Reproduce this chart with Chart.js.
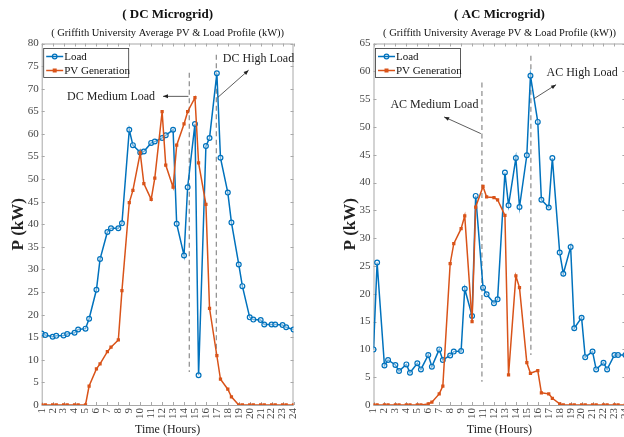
<!DOCTYPE html>
<html>
<head>
<meta charset="utf-8">
<title>DC / AC Microgrid</title>
<script src="https://cdn.jsdelivr.net/npm/chart.js@4.4.1/dist/chart.umd.min.js"></script>
<style>
    body { margin: 0; background: #fff; overflow: hidden; width: 624px; height: 437px; position: relative; }
    canvas { position: absolute; top: 0; }
</style>
</head>
<body>
<canvas id="dc-chart" width="312" height="437" style="left:0"></canvas>
<canvas id="ac-chart" width="332" height="437" style="left:312px"></canvas>
<script>
/* Data (two samples per hour: h and h + 1/3) */

const HOURS = [1, 1.33, 2, 2.33, 3, 3.33, 4, 4.33, 5, 5.33, 6, 6.33, 7, 7.33, 8, 8.33, 9, 9.33, 10, 10.33,
    11, 11.33, 12, 12.33, 13, 13.33, 14, 14.33, 15, 15.33, 16, 16.33, 17, 17.33, 18, 18.33, 19, 19.33, 20, 20.33,
    21, 21.33, 22, 22.33, 23, 23.33, 24];

const X_TICKS = [1, 2, 3, 4, 5, 6, 7, 8, 9, 10, 11, 12, 13, 14, 15, 16, 17, 18, 19, 20, 21, 22, 23, 24];
const X_TICK_LABELS = ["1", "2", "3", "4", "5", "6", "7", "8", "9", "10", "11", "12", "13", "14", "15", "16",
    "17", "18", "19", "20", "21", "22", "23", "24"];

const DC_Y_TICKS = [0, 5, 10, 15, 20, 25, 30, 35, 40, 45, 50, 55, 60, 65, 70, 75, 80];
const AC_Y_TICKS = [0, 5, 10, 15, 20, 25, 30, 35, 40, 45, 50, 55, 60, 65];

const DC_LOAD = [15.8, 15.5, 15.1, 15.3, 15.4, 15.7, 16.0, 16.7, 16.9, 19.1, 25.5, 32.3, 38.3, 39.1, 39.1, 40.2,
    60.9, 57.5, 55.9, 56.1, 58.0, 58.3, 59.1, 59.7, 60.9, 40.1, 33.1, 48.2, 62.2, 6.6, 57.3, 59.1, 73.4, 54.7,
    47.0, 40.4, 31.1, 26.3, 19.4, 18.9, 18.8, 17.8, 17.8, 17.8, 17.7, 17.2, 16.7];
const DC_PV = [0, 0, 0, 0, 0, 0, 0, 0, 0, 4.2, 8.0, 9.1, 11.8, 12.8, 14.4, 25.3, 44.8, 47.5, 55.8, 49.0, 45.5,
    50.2, 64.9, 53.1, 48.2, 57.5, 62.2, 64.9, 68.0, 53.6, 44.4, 21.4, 10.9, 5.7, 3.5, 1.8, 0, 0, 0, 0, 0, 0, 0,
    0, 0, 0, 0];

const AC_LOAD = [10.0, 25.6, 7.1, 8.1, 7.2, 6.1, 7.3, 5.8, 7.5, 6.4, 9.0, 6.9, 10.0, 8.1, 8.9, 9.6, 9.7, 20.9,
    16.0, 37.6, 21.1, 19.9, 18.3, 19.0, 41.8, 35.9, 44.4, 35.6, 44.9, 59.2, 50.9, 36.9, 35.5, 44.4, 27.4, 23.6,
    28.4, 13.8, 15.7, 8.6, 9.6, 6.4, 7.6, 6.4, 9.0, 9.0, 9.0];
const AC_PV = [0, 0, 0, 0, 0, 0, 0, 0, 0, 0, 0.2, 0.5, 2.0, 3.4, 25.4, 29.0, 31.7, 34.0, 15.0, 35.6, 39.3, 37.4,
    37.3, 36.9, 34.1, 5.4, 23.2, 21.1, 7.6, 5.7, 6.2, 2.2, 2.0, 1.2, 0.2, 0, 0, 0, 0, 0, 0, 0, 0, 0, 0, 0, 0];

/* Dashed load markers: x position, top and bottom value */
const DC_MARKERS = [[14.48, 73.5, 7.3], [16.95, 77.5, 11.0]];
const AC_MARKERS = [[10.9, 58.0, 4.2], [15.37, 62.8, 9.0]];

/* Notes: text, text centre (x, y), arrow tail (x, y), arrow head (x, y) */
const DC_NOTES = [
    ["DC Medium Load", 7.34, 68.1, 14.4, 68.3, 12.08, 68.3],
    ["DC High Load", 20.8, 76.5, 17.1, 68.1, 19.9, 74.1]
];
const AC_NOTES = [
    ["AC Medium Load", 6.56, 53.9, 10.8, 48.8, 7.45, 51.8],
    ["AC High Load", 20.05, 59.7, 15.67, 55.1, 17.67, 57.6]
];

const SERIF = "'Liberation Serif', 'Times New Roman', serif";
const BLUE = "#0072BD";
const ORANGE = "#D95319";

const framePlugin = {
    /* Box round the plot with inward ticks on all four sides */
    id: "frame",
    beforeDatasetsDraw(chart) {
        const {ctx, chartArea: a, scales: {x, y}} = chart;
        ctx.save();
        ctx.strokeStyle = "#a8a8a8";
        ctx.lineWidth = 1;
        ctx.strokeRect(a.left + 0.5, a.top + 0.5, a.right - a.left - 1, a.bottom - a.top);
        ctx.beginPath();
        x.ticks.forEach(t => {
            const px = Math.round(x.getPixelForValue(t.value)) + 0.5;
            ctx.moveTo(px, a.bottom); ctx.lineTo(px, a.bottom - 3);
            ctx.moveTo(px, a.top); ctx.lineTo(px, a.top + 3);
        });
        y.ticks.forEach(t => {
            const py = Math.round(y.getPixelForValue(t.value)) + 0.5;
            ctx.moveTo(a.left, py); ctx.lineTo(a.left + 3, py);
            ctx.moveTo(a.right, py); ctx.lineTo(a.right - 3, py);
        });
        ctx.stroke();
        ctx.restore();
    }
};

function drawArrow(ctx, x0, y0, x1, y1){
    /* Thin line from (x0, y0) with a small filled head at (x1, y1) */
    const ang = Math.atan2(y1 - y0, x1 - x0);
    ctx.beginPath();
    ctx.moveTo(x0, y0);
    ctx.lineTo(x1, y1);
    ctx.stroke();
    ctx.beginPath();
    ctx.moveTo(x1, y1);
    ctx.lineTo(x1 - 5 * Math.cos(ang) + 2 * Math.sin(ang), y1 - 5 * Math.sin(ang) - 2 * Math.cos(ang));
    ctx.lineTo(x1 - 5 * Math.cos(ang) - 2 * Math.sin(ang), y1 - 5 * Math.sin(ang) + 2 * Math.cos(ang));
    ctx.closePath();
    ctx.fill();
}

const notesPlugin = {
    /* Titles, legend and the load notes with arrows */
    id: "notes",
    afterDatasetsDraw(chart, args, opts) {
        const {ctx, chartArea: a, scales: {x, y}} = chart;
        const cx = (a.left + a.right) / 2;
        ctx.save();
        ctx.fillStyle = "#111";
        ctx.textAlign = "center";
        ctx.textBaseline = "middle";
        ctx.font = "bold 13px " + SERIF;
        ctx.fillText(opts.title, cx, 15);
        ctx.font = "10.5px " + SERIF;
        ctx.fillText(opts.subtitle, cx, 33);

        // notes
        ctx.font = "12px " + SERIF;
        ctx.strokeStyle = "#333";
        ctx.fillStyle = "#222";
        ctx.lineWidth = 0.8;
        opts.notes.forEach(n => {
            ctx.fillText(n[0], x.getPixelForValue(n[1]), y.getPixelForValue(n[2]));
            drawArrow(ctx, x.getPixelForValue(n[3]), y.getPixelForValue(n[4]),
                x.getPixelForValue(n[5]), y.getPixelForValue(n[6]));
        });

        // legend
        const lx = a.left + opts.legendDx, ly = 48;
        ctx.fillStyle = "#fff";
        ctx.fillRect(lx, ly, 85, 29);
        ctx.strokeStyle = "#333";
        ctx.lineWidth = 0.8;
        ctx.strokeRect(lx + 0.5, ly + 0.5, 85, 29);
        const entries = [["Load", BLUE, "circle"], ["PV Generation", ORANGE, "rect"]];
        ctx.textAlign = "left";
        ctx.font = "11px " + SERIF;
        entries.forEach((e, i) => {
            const ey = ly + 8.5 + i * 14;
            ctx.strokeStyle = e[1];
            ctx.fillStyle = e[1];
            ctx.lineWidth = 1.5;
            ctx.beginPath();
            ctx.moveTo(lx + 3, ey); ctx.lineTo(lx + 20, ey);
            ctx.stroke();
            if(e[2] === "circle"){
                ctx.beginPath();
                ctx.arc(lx + 11.5, ey, 2.3, 0, 2 * Math.PI);
                ctx.lineWidth = 1.2;
                ctx.stroke();
            } else {
                ctx.fillRect(lx + 9.5, ey - 2, 4, 4);
            }
            ctx.fillStyle = "#111";
            ctx.fillText(e[0], lx + 21, ey + 0.5);
        });
        ctx.restore();
    }
};

function drawChart(canvasId, cfg){
    /* It draws one microgrid panel.
     * cfg.load, cfg.pv: values for HOURS
     * cfg.yTicks: y tick values, cfg.markers / cfg.notes: dashed lines and notes
     */
    const datasets = [{
        label: "Load",
        data: HOURS.map((h, i) => ({x: h, y: cfg.load[i]})),
        borderColor: BLUE,
        backgroundColor: BLUE,
        pointBackgroundColor: "rgba(255,255,255,0.45)",
        pointBorderColor: BLUE,
        pointBorderWidth: 1.2,
        pointRadius: 2.4,
        borderWidth: 1.5,
        order: 2
    },

    {
        label: "PV Generation",
        data: HOURS.map((h, i) => ({x: h, y: cfg.pv[i]})),
        borderColor: ORANGE,
        backgroundColor: ORANGE,
        pointStyle: "rect",
        pointRadius: 2.3,
        pointBorderWidth: 0,
        borderWidth: 1.5,
        order: 1
    }];

    cfg.markers.forEach(m => {
        datasets.push({
            label: "marker",
            data: [{x: m[0], y: m[1]}, {x: m[0], y: m[2]}],
            borderColor: "#8a8a8a",
            borderDash: [5, 3.5],
            borderWidth: 1.2,
            pointRadius: 0,
            order: 3
        });
    });

    const ctx = document.getElementById(canvasId).getContext("2d");

    return new Chart(ctx, {
        type: "line",
        data: {datasets: datasets},
        plugins: [framePlugin, notesPlugin],
        options: {
            responsive: false,
            animation: false,
            devicePixelRatio: 1,
            layout: {padding: {left: 0, top: 43.5, right: cfg.rightPad, bottom: 0}},
            plugins: {
                legend: {display: false},
                tooltip: {enabled: false},
                notes: {title: cfg.title, subtitle: "( Griffith University Average PV & Load Profile (kW))",
                    notes: cfg.notes, legendDx: 1.5}
            },
            scales: {
                x: {
                    type: "linear",
                    min: 1,
                    max: 24,
                    grid: {display: false, drawTicks: false},
                    border: {display: false},
                    afterBuildTicks: s => { s.ticks = X_TICKS.map(v => ({value: v})); },
                    afterFit: s => { s.height = 32; },
                    ticks: {
                        autoSkip: false,
                        minRotation: 90,
                        maxRotation: 90,
                        padding: 3,
                        color: "#444",
                        font: {family: SERIF, size: 11},
                        callback: (v) => X_TICK_LABELS[X_TICKS.indexOf(v)]
                    },
                    title: {display: true, text: "Time (Hours)", color: "#222",
                        font: {family: SERIF, size: 12}, padding: {top: 0, bottom: 0}}
                },

                y: {
                    min: 0,
                    max: cfg.yTicks[cfg.yTicks.length - 1],
                    grid: {display: false, drawTicks: false},
                    border: {display: false},
                    afterBuildTicks: s => { s.ticks = cfg.yTicks.map(v => ({value: v})); },
                    afterFit: s => { s.width = cfg.yWidth; },
                    ticks: {
                        padding: 3,
                        color: "#444",
                        font: {family: SERIF, size: 11}
                    },
                    title: {display: true, text: "P (kW)", color: "#222",
                        font: {family: SERIF, size: 17, weight: "bold"}, padding: {top: cfg.yTitlePad, bottom: 0}}
                }
            }
        }
    });
}

drawChart("dc-chart", {
    title: "( DC Microgrid)",
    load: DC_LOAD,
    pv: DC_PV,
    yTicks: DC_Y_TICKS,
    markers: DC_MARKERS,
    notes: DC_NOTES,
    yWidth: 41.7,
    yTitlePad: 8.8,
    rightPad: 18.5
});

drawChart("ac-chart", {
    title: "( AC Microgrid)",
    load: AC_LOAD,
    pv: AC_PV,
    yTicks: AC_Y_TICKS,
    markers: AC_MARKERS,
    notes: AC_NOTES,
    yWidth: 61.5,
    yTitlePad: 28.8,
    rightPad: 18.6
});
</script>
</body>
</html>
